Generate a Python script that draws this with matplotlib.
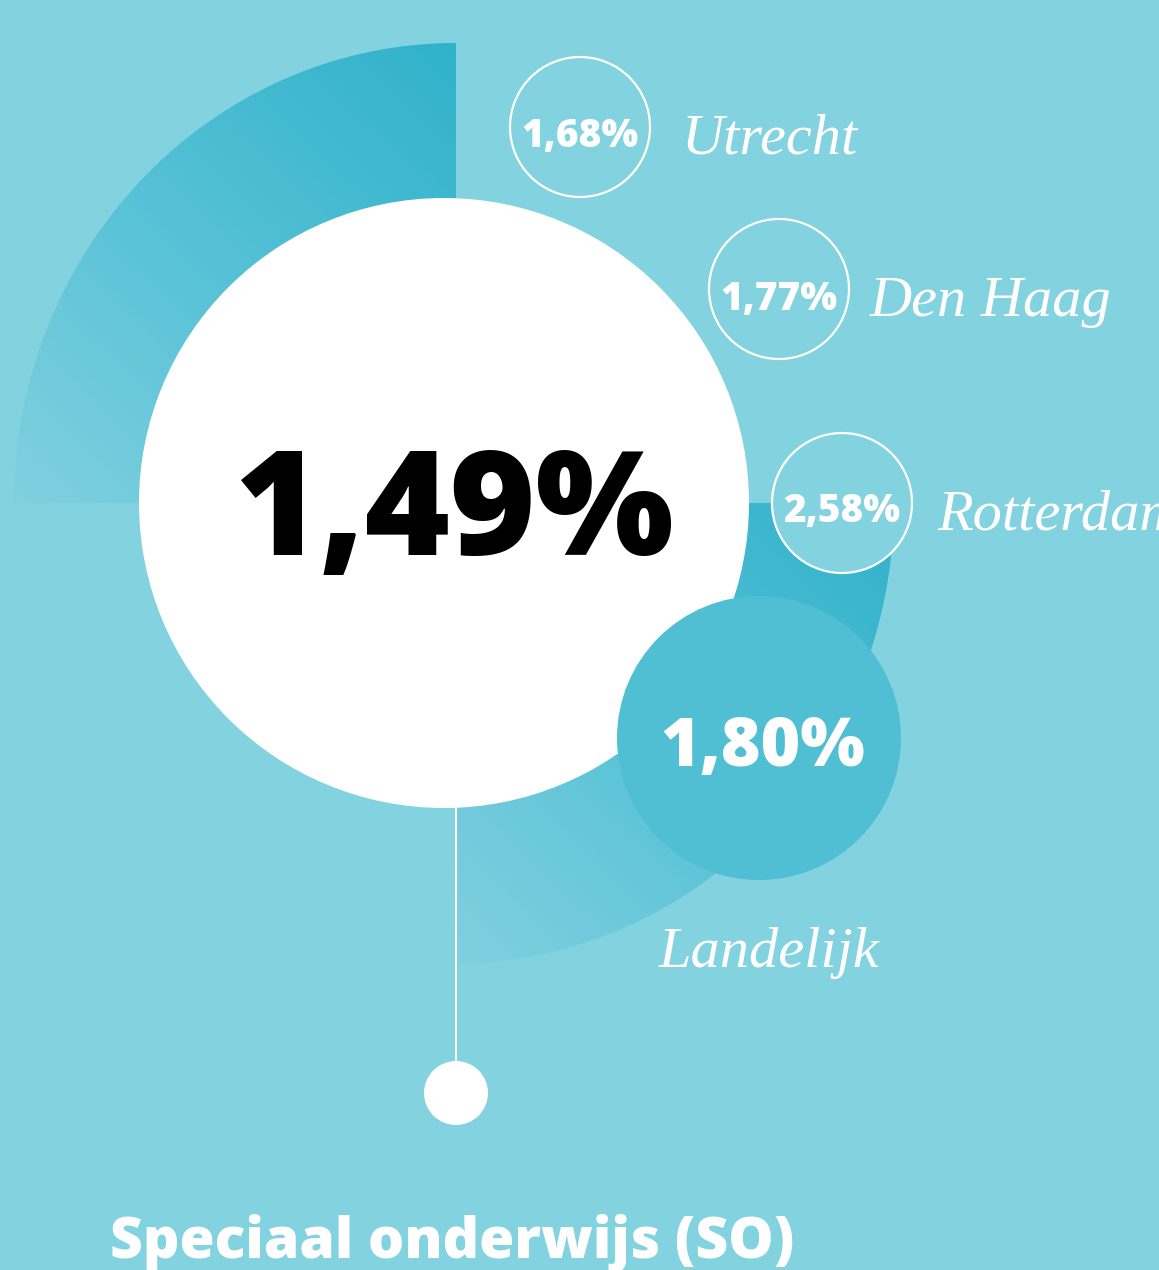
import numpy as np
import matplotlib.pyplot as plt
from matplotlib.patches import Circle, Polygon
from matplotlib.colors import LinearSegmentedColormap

# values shown in the graphic
center_value = 1.49
city_names = ['Utrecht', 'Den Haag', 'Rotterdam']
city_values = [1.68, 1.77, 2.58]
national_label = 'Landelijk'
national_value = 1.80
title = 'Speciaal onderwijs (SO)'

bg = '#82D2E0'
W, H = 1159, 1270
num_font = 'Open Sans'
label_font = 'Liberation Serif'


def fmt(v):
    return f'{v:.2f}'.replace('.', ',') + '%'


def wedge_points(cx, cy, rx, ry, a0, a1, n=200):
    # angles in degrees, y axis points down in the picture
    t = np.radians(np.linspace(a0, a1, n))
    xs = cx + rx * np.cos(t)
    ys = cy - ry * np.sin(t)
    return np.vstack([[cx, cy], np.column_stack([xs, ys])])


def gradient_wedge(ax, pts, p_dark, p_light, cmap):
    x0, y0 = pts.min(axis=0)
    x1, y1 = pts.max(axis=0)
    xx, yy = np.meshgrid(np.linspace(x0, x1, 400), np.linspace(y0, y1, 400))
    d = np.array(p_light, float) - np.array(p_dark, float)
    t = ((xx - p_dark[0]) * d[0] + (yy - p_dark[1]) * d[1]) / (d @ d)
    t = np.clip(t, 0, 1)
    im = ax.imshow(t, cmap=cmap, extent=(x0, x1, y0, y1), origin='lower',
                   vmin=0, vmax=1, zorder=1, interpolation='bilinear')
    poly = Polygon(pts, closed=True, facecolor='none', edgecolor='none')
    ax.add_patch(poly)
    im.set_clip_path(poly)


fig = plt.figure(figsize=(W / 100, H / 100), dpi=100, facecolor=bg)
ax = fig.add_axes([0, 0, 1, 1])
ax.set_facecolor(bg)
ax.axis('off')

cmap = LinearSegmentedColormap.from_list('wedge', ['#31B2CB', '#55C1D6', '#80D0DF'])

# two gradient quarters behind the big circle
gradient_wedge(ax, wedge_points(456, 503, 442, 460, 90, 180), (456, 50), (20, 503), cmap)
gradient_wedge(ax, wedge_points(456, 503, 438, 460, -90, 0), (893, 503), (456, 963), cmap)

# big white circle with the SO value
ax.add_patch(Circle((444, 503), 305, facecolor='white', edgecolor='none', zorder=2))
ax.text(454, 555, fmt(center_value), ha='center', va='baseline', fontsize=105,
        fontweight=800, family=num_font, color='black', zorder=5)

# national value
ax.add_patch(Circle((759, 738), 142, facecolor='#50BED3', edgecolor='none', zorder=3))
ax.text(763, 766, fmt(national_value), ha='center', va='baseline', fontsize=49,
        fontweight=800, family=num_font, color='white', zorder=5)
ax.text(659, 967, national_label, ha='left', va='baseline', fontsize=42,
        style='italic', family=label_font, color='white', zorder=5)

# city circles
circle_xy = [(580, 127), (779, 289), (842, 503)]
text_base = [147, 310, 522]
label_xy = [(682, 153), (870, 316), (937, 529)]
for name, v, (cx, cy), tb, (lx, ly) in zip(city_names, city_values, circle_xy, text_base, label_xy):
    ax.add_patch(Circle((cx, cy), 70, facecolor=bg, edgecolor='white', lw=1.6, zorder=3))
    ax.text(cx, tb, fmt(v), ha='center', va='baseline', fontsize=28,
            fontweight=800, family=num_font, color='white', zorder=5)
    ax.text(lx, ly, name, ha='left', va='baseline', fontsize=42,
            style='italic', family=label_font, color='white', zorder=5)

# pointer line and dot
ax.plot([456, 456], [806, 1065], color='white', lw=1.5, zorder=2)
ax.add_patch(Circle((456, 1093), 32, facecolor='white', edgecolor='none', zorder=3))

ax.text(110, 1258, title, ha='left', va='baseline', fontsize=41,
        fontweight=800, family=num_font, color='white', zorder=5)

ax.set_xlim(0, W)
ax.set_ylim(H, 0)
ax.set_aspect('auto')

plt.savefig('out.png', dpi=100, facecolor=bg)
